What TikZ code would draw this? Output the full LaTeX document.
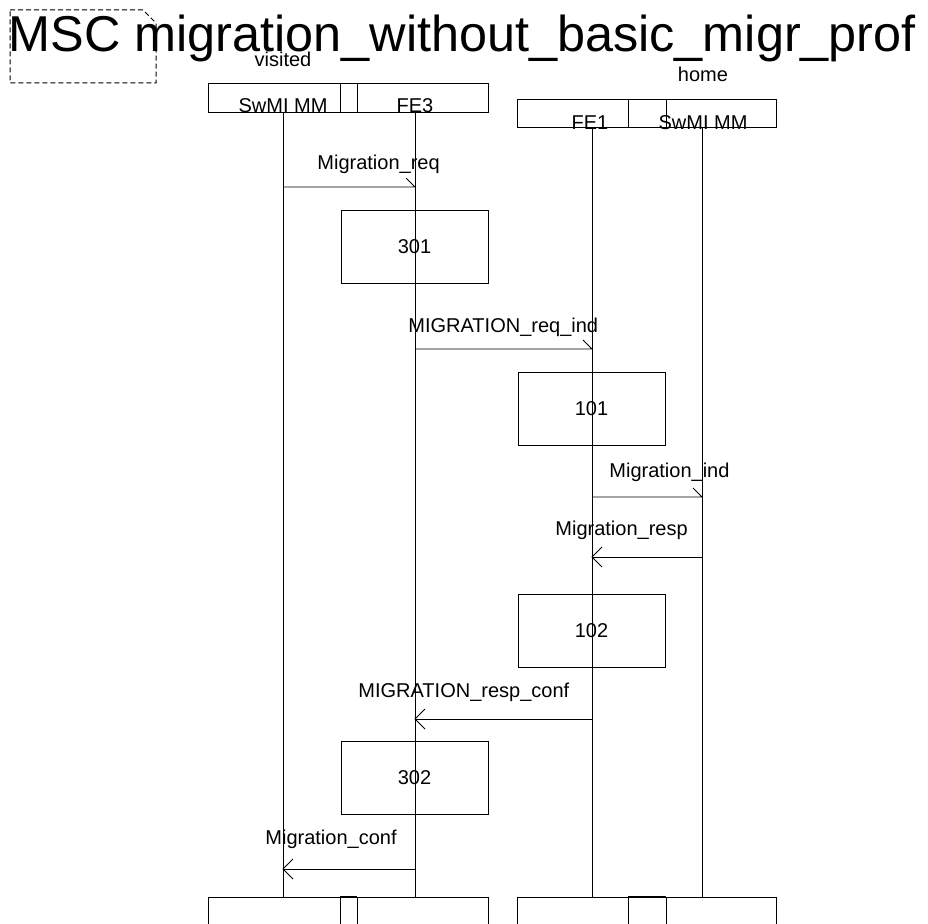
\documentclass[tikz,border=0pt]{standalone}
\usepackage{fontspec}
\setmainfont{Liberation Sans}
\begin{document}
\begin{tikzpicture}[x=1pt,y=-1pt,line width=0.8pt,
  lbl/.style={font=\fontsize{20}{24}\selectfont,inner sep=0pt,anchor=base west},
  clbl/.style={font=\fontsize{20}{24}\selectfont,inner sep=0pt,anchor=base},
  ttl/.style={font=\fontsize{50.4}{60}\selectfont,inner sep=0pt,anchor=base west},
  actbox/.style={draw,minimum width=147pt,minimum height=73pt,inner sep=0pt,font=\fontsize{20}{24}\selectfont},
  headbox/.style={draw,inner sep=0pt,anchor=north west},
  msg/.style={draw},
  frame/.style={draw,line width=1pt,dash pattern=on 5pt off 3pt}]
\useasboundingbox (0,0) rectangle (928,923);
\clip (0,0) rectangle (928,923);
\fill[white] (0,0) rectangle (928,923);

% frame and title
\draw[frame] (10,10) -- (143,10) -- (156,23) -- (156,83) -- (10,83) -- cycle;
\node[ttl] (title) at (8,51.5) {MSC migration\_without\_basic\_migr\_prof};

% instance heads
\node[clbl] (visited) at (283,67) {visited};
\node[clbl] (home) at (703,82) {home};
\node[headbox,minimum width=280pt,minimum height=29pt] (vhead) at (208,83) {};
\node[headbox,minimum width=17pt,minimum height=29pt] (vsep) at (340,83) {};
\node[headbox,minimum width=259pt,minimum height=28pt] (hhead) at (517,99) {};
\node[headbox,minimum width=38pt,minimum height=28pt] (hsep) at (628,99) {};
\node[clbl] (vswl) at (283,113) {SwMI MM};
\node[clbl] (fe3l) at (415,113) {FE3};
\node[clbl] (fe1l) at (590,129) {FE1};
\node[clbl] (hswl) at (703,129) {SwMI MM};

% lifeline coordinates
\coordinate (vswT) at (283,112); \coordinate (vswB) at (283,897);
\coordinate (fe3T) at (415,112); \coordinate (fe3B) at (415,897);
\coordinate (fe1T) at (592,127); \coordinate (fe1B) at (592,897);
\coordinate (hswT) at (702,127); \coordinate (hswB) at (702,897);

% action boxes
\node[actbox] (b301) at (414.5,246.5) {301};
\node[actbox] (b101) at (591.5,408.5) {101};
\node[actbox] (b102) at (591.5,630.5) {102};
\node[actbox] (b302) at (414.5,778) {302};

% lifelines
\draw (vswT) -- (vswB);
\draw (fe3T) -- (fe3B);
\draw (fe1T) -- (fe1B);
\draw (hswT) -- (hswB);

% messages
\coordinate (m1a) at (283,187); \coordinate (m1b) at (415,187);
\draw[msg] (m1a) -- (m1b) -- ++(-9,-9);
\node[lbl] (m1l) at (317,169) {Migration\_req};

\coordinate (m2a) at (415,349); \coordinate (m2b) at (592,349);
\draw[msg] (m2a) -- (m2b) -- ++(-9,-9);
\node[lbl] (m2l) at (408,332) {MIGRATION\_req\_ind};

\coordinate (m3a) at (592,497); \coordinate (m3b) at (702,497);
\draw[msg] (m3a) -- (m3b) -- ++(-9,-9);
\node[lbl] (m3l) at (609,477) {Migration\_ind};

\coordinate (m4a) at (702,557); \coordinate (m4b) at (592,557);
\draw[msg] (m4a) -- (m4b);
\draw[msg] ([shift={(10,-10)}]m4b) -- (m4b) -- ([shift={(10,10)}]m4b);
\node[lbl] (m4l) at (555,535) {Migration\_resp};

\coordinate (m5a) at (592,719); \coordinate (m5b) at (415,719);
\draw[msg] (m5a) -- (m5b);
\draw[msg] ([shift={(10,-10)}]m5b) -- (m5b) -- ([shift={(10,10)}]m5b);
\node[lbl] (m5l) at (358,697) {MIGRATION\_resp\_conf};

\coordinate (m6a) at (415,869); \coordinate (m6b) at (283,869);
\draw[msg] (m6a) -- (m6b);
\draw[msg] ([shift={(10,-10)}]m6b) -- (m6b) -- ([shift={(10,10)}]m6b);
\node[lbl] (m6l) at (265,844) {Migration\_conf};

% instance ends (cut by the page edge)
\draw (208,940) -- (208,897) -- (488,897) -- (488,940);
\draw (340,940) -- (340,897); \draw (357,940) -- (357,897);
\draw[line width=2pt] (340,897) -- (357,897);
\draw (517,940) -- (517,897) -- (776,897) -- (776,940);
\draw (628,940) -- (628,897); \draw (666,940) -- (666,897);
\draw[line width=2pt] (628,897) -- (666,897);
\end{tikzpicture}
\end{document}
